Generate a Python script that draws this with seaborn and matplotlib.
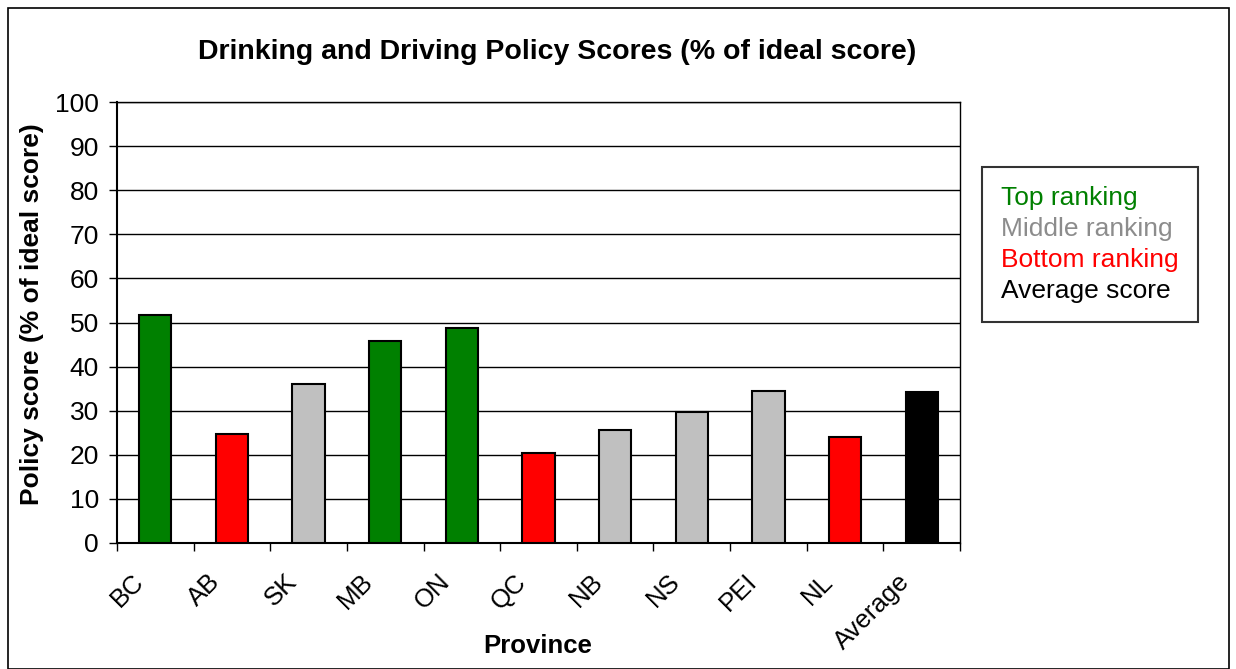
import matplotlib
matplotlib.use("Agg")
import matplotlib.pyplot as plt
import matplotlib.transforms as mtransforms
import seaborn as sns
import pandas as pd
from matplotlib.patches import Rectangle, Patch

provinces = ["BC", "AB", "SK", "MB", "ON", "QC", "NB", "NS", "PEI", "NL", "Average"]
scores = [51.8, 24.8, 36.1, 45.8, 48.8, 20.3, 25.6, 29.6, 34.5, 24.0, 34.2]
ranking = ["Top", "Bottom", "Middle", "Top", "Top", "Bottom", "Middle", "Middle", "Middle", "Bottom", "Average"]
rank_colors = {"Top": "#008000", "Middle": "#C0C0C0", "Bottom": "#FF0000", "Average": "#000000"}
legend_labels = ["Top ranking", "Middle ranking", "Bottom ranking", "Average score"]
legend_colors = ["#008000", "#8C8C8C", "#FF0000", "#000000"]
y_ticks = list(range(0, 101, 10))

sns.set_theme(style="white")
plt.rcParams["font.family"] = ["Liberation Sans", "DejaVu Sans"]
plt.rcParams["text.color"] = "black"
plt.rcParams["xtick.color"] = "black"
plt.rcParams["ytick.color"] = "black"
plt.rcParams["xtick.labelcolor"] = "black"
plt.rcParams["ytick.labelcolor"] = "black"

df = pd.DataFrame({"Province": provinces, "Score": scores})
palette = {p: rank_colors[r] for p, r in zip(provinces, ranking)}

fig = plt.figure(figsize=(12.36, 6.69), dpi=100)
ax = fig.add_axes([117 / 1236, 1 - 543 / 669, (960 - 117) / 1236, (543 - 102) / 669])

sns.barplot(data=df, x="Province", y="Score", hue="Province", palette=palette,
            saturation=1, legend=False, width=0.42, edgecolor="black", linewidth=1.5,
            ax=ax, zorder=3)

ax.set_ylim(0, 100)
ax.set_xlim(-0.5, len(provinces) - 0.5)
ax.set_yticks(y_ticks)
ax.set_yticklabels([str(t) for t in y_ticks], fontsize=19)
ax.yaxis.grid(True, color="black", linewidth=1, zorder=0)
ax.set_axisbelow(True)
ax.tick_params(axis="y", which="major", direction="out", length=6, width=1, color="black", left=True, pad=7)

ax.set_xticks(range(len(provinces)))
ax.set_xticklabels(provinces, fontsize=18.5, rotation=45, ha="right", va="top", rotation_mode="anchor")
ax.tick_params(axis="x", which="major", length=0, pad=19)
offset = mtransforms.ScaledTranslation(-24 / 100, 0, fig.dpi_scale_trans)
for lbl in ax.get_xticklabels():
    lbl.set_transform(lbl.get_transform() + offset)
ax.set_xticks([i - 0.5 for i in range(len(provinces) + 1)], minor=True)
ax.tick_params(axis="x", which="minor", direction="out", length=6, width=1, color="black", bottom=True)

for s in ax.spines.values():
    s.set_color("black")
    s.set_linewidth(1)
ax.spines["left"].set_linewidth(1.5)
ax.spines["bottom"].set_linewidth(1.5)

ax.set_xlabel("")
ax.set_ylabel("")
fig.text(557 / 1236, 1 - 52 / 669, "Drinking and Driving Policy Scores (% of ideal score)",
         ha="center", va="center", fontsize=20.5, fontweight="bold")
fig.text(32 / 1236, 1 - 314 / 669, "Policy score (% of ideal score)", rotation=90,
         ha="center", va="center", fontsize=19, fontweight="bold")
fig.text(538 / 1236, 1 - 646 / 669, "Province", ha="center", va="center",
         fontsize=18.5, fontweight="bold")

handles = [Patch(visible=False) for _ in legend_labels]
leg = fig.legend(handles, legend_labels, loc="upper left",
                 bbox_to_anchor=(982 / 1236, 1 - 167 / 669), fontsize=19,
                 handlelength=0, handletextpad=0, frameon=True, fancybox=False,
                 borderpad=0.72, labelspacing=0.27, borderaxespad=0)
leg.get_frame().set_edgecolor("black")
leg.get_frame().set_linewidth(1.5)
for t, c in zip(leg.get_texts(), legend_colors):
    t.set_color(c)

fig.patches.append(Rectangle((8 / 1236, 0.0), (1229 - 8) / 1236, 1 - 8 / 669,
                             transform=fig.transFigure, fill=False, edgecolor="black",
                             linewidth=1.2))

fig.savefig("out.png", dpi=100)
